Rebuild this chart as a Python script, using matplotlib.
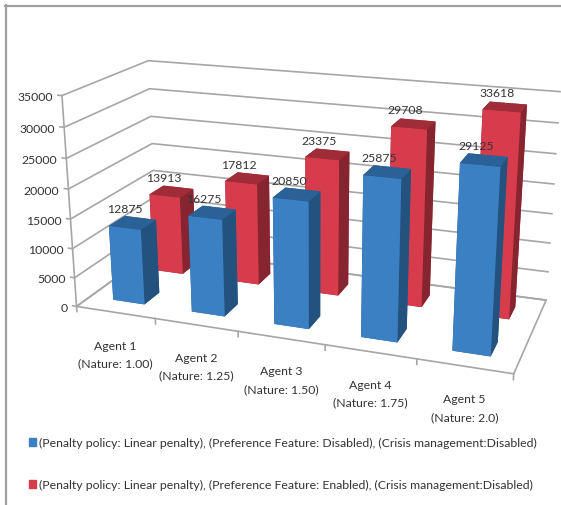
import matplotlib
matplotlib.use('Agg')
import matplotlib.pyplot as plt
from matplotlib.patches import Rectangle
from mpl_toolkits.mplot3d import proj3d

WIDTH, HEIGHT = 561, 506

plt.rcParams['font.family'] = ['Lato', 'DejaVu Sans']

agents = ['Agent 1\n(Nature: 1.00)', 'Agent 2\n(Nature: 1.25)', 'Agent 3\n(Nature: 1.50)',
          'Agent 4\n(Nature: 1.75)', 'Agent 5\n(Nature: 2.0)']
disabled_vals = [12875, 16275, 20850, 25875, 29125]
enabled_vals = [13913, 17812, 23375, 29708, 33618]
z_ticks = [0, 5000, 10000, 15000, 20000, 25000, 30000, 35000]
legend_disabled = '(Penalty policy: Linear penalty), (Preference Feature: Disabled), (Crisis management:Disabled)'
legend_enabled = '(Penalty policy: Linear penalty), (Preference Feature: Enabled), (Crisis management:Disabled)'

# camera and box shape of the 3D column chart
ELEV, AZIM, ROLL, FOCAL = 18.279, -70.096, 0.042, 0.4211
BOX_X, BOX_Z = 2.509, 1.232
BAR_W, BAR_D = 0.4037, 0.1858
SCALE, CENTER_X, CENTER_Y = 2789.476, 312.671, 202.518

TEXT = '#333333'
GRID = '#a6a6a6'
FONT = 8.8

fig = plt.figure(figsize=(WIDTH / 100, HEIGHT / 100), dpi=100)
ax = fig.add_axes([0, 0, 1, 1], projection='3d')
ax.set_xlim(0, 5)
ax.set_ylim(0, 1)
ax.set_zlim(0, 35000)
ax.set_axis_off()
ax.view_init(elev=ELEV, azim=AZIM, roll=ROLL)
ax.set_proj_type('persp', focal_length=FOCAL)
ax.set_box_aspect((BOX_X, 1, BOX_Z))

# the axes is square, size it so one projected unit is SCALE pixels
xl, yl = ax.viewLim.intervalx, ax.viewLim.intervaly
side = SCALE * (xl[1] - xl[0])
left = CENTER_X + SCALE * xl[0]
bottom = (HEIGHT - CENTER_Y) + SCALE * yl[0]
ax.set_position([left / WIDTH, bottom / HEIGHT, side / WIDTH, side / HEIGHT])
ax.computed_zorder = False


def label(x, y, z, text, dx, dy, ha='center', **kw):
    """Text anchored on a 3D point, shifted by a pixel offset."""
    px, py, _ = proj3d.proj_transform(x, y, z, ax.get_proj())
    ax.annotate(text, (px, py), xytext=(dx, dy), textcoords='offset pixels', ha=ha, va='center',
                fontsize=FONT, color=TEXT, zorder=20, **kw)


# walls and floor
for z in z_ticks:
    ax.plot([-0.05, 0, 0, 5], [0, 0, 1, 1], [z, z, z, z], color=GRID, lw=1.2, zorder=1)
    label(0, 0, z, str(z), -9, -1, ha='right')
ax.plot([0, 0], [0, 0], [-900, 35000], color=GRID, lw=1.2, zorder=1)
ax.plot([0, 5, 5, 0, 0], [0, 0, 1, 1, 0], [0, 0, 0, 0, 0], color=GRID, lw=1.2, zorder=1)
for i in range(1, 6):
    ax.plot([i, i], [0, 0], [0, -900], color=GRID, lw=1.2, zorder=1)

# face order for bar3d: bottom, top, front, back, left, right
blue = ['#2a6197', '#2a6197', '#3c80c4', '#2a6197', '#23527f', '#23527f']
red = ['#a02c37', '#a02c37', '#d63c4b', '#a02c37', '#862530', '#862530']
for i, v in enumerate(enabled_vals):
    ax.bar3d(i + 0.5 - BAR_W / 2, 0.75 - BAR_D / 2, 0, BAR_W, BAR_D, v, color=red, shade=False, linewidth=0, zorder=3)
    label(i + 0.5, 0.75, v, str(v), -8, 14)
for i, v in enumerate(disabled_vals):
    ax.bar3d(i + 0.5 - BAR_W / 2, 0.25 - BAR_D / 2, 0, BAR_W, BAR_D, v, color=blue, shade=False, linewidth=0, zorder=5)
    label(i + 0.5, 0.25, v, str(v), -8, 14)
for i, name in enumerate(agents):
    label(i + 0.5, 0, 0, name, 0, -41.5, linespacing=1.75)

# page frame and legend
fig.add_artist(plt.Line2D([6 / WIDTH, 6 / WIDTH], [0, 1 - 6 / HEIGHT], color='#a0a0a0', lw=1.6))
fig.add_artist(plt.Line2D([5 / WIDTH, 1], [1 - 7 / HEIGHT, 1 - 7 / HEIGHT], color='#a0a0a0', lw=1.6))
for y, col, name in [(443, '#3c80c4', legend_disabled), (485, '#d63c4b', legend_enabled)]:
    fig.add_artist(Rectangle((29 / WIDTH, 1 - (y + 4) / HEIGHT), 7 / WIDTH, 8 / HEIGHT, color=col,
                             transform=fig.transFigure))
    fig.text(39 / WIDTH, 1 - y / HEIGHT, name, ha='left', va='center', fontsize=FONT, color=TEXT)

fig.savefig('out.png', dpi=100)
